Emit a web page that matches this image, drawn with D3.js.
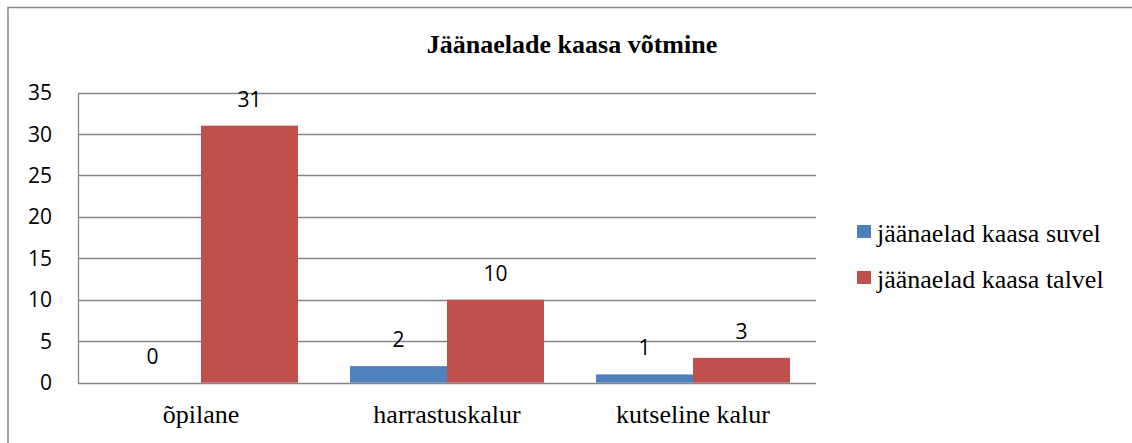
<!DOCTYPE html>
<html lang="et">
<head>
  <meta charset="utf-8">
  <title>Jäänaelade kaasa võtmine</title>
  <style>
    body { margin: 0; background: #fff; }
    svg { display: block; }
    .grid line { stroke: #868686; stroke-width: 1.3; }
    .ytick { font-family: 'Open Sans', sans-serif; font-size: 21px; fill: #000; }
    .vlabel { font-family: 'Open Sans', sans-serif; font-size: 21px; fill: #000; text-anchor: middle; }
    .xtick, .legend text { font-family: 'Liberation Serif', 'Times New Roman', serif; font-size: 26px; fill: #000; }
    .title { font-family: 'Liberation Serif', 'Times New Roman', serif; font-size: 26px; font-weight: bold; text-anchor: middle; }
  </style>
</head>
<body>
  <div id="chart"></div>

  <script src="https://d3js.org/d3.v7.min.js"></script>
  <script>
    // chart data
    var categories = ["õpilane", "harrastuskalur", "kutseline kalur"];
    var seriesNames = ["jäänaelad kaasa suvel", "jäänaelad kaasa talvel"];
    var summerValues = [0, 2, 1];
    var winterValues = [31, 10, 3];
    var yTicks = [0, 5, 10, 15, 20, 25, 30, 35];
    var colors = ["#4F81BD", "#C0504D"];

    var width = 1132, height = 443;
    var plot = { left: 78, right: 816, top: 92.5, bottom: 382.7 };

    var svg = d3.select("#chart")
      .append("svg")
      .attr("width", width)
      .attr("height", height);

    // outer frame (right/bottom edges fall outside the picture)
    svg.append("rect")
      .attr("x", 8).attr("y", 7.5)
      .attr("width", 1200).attr("height", 500)
      .attr("fill", "none")
      .attr("stroke", "#888")
      .attr("stroke-width", 1.5);

    // title
    svg.append("text")
      .attr("class", "title")
      .attr("x", 572)
      .attr("y", 53)
      .text("Jäänaelade kaasa võtmine");

    // scales
    var y = d3.scaleLinear().domain([0, 35]).range([plot.bottom, plot.top]);
    var x0 = d3.scaleBand().domain(categories).range([plot.left, plot.right]).padding(0);
    var x1 = d3.scaleBand().domain(seriesNames).range([0, x0.bandwidth()])
      .paddingInner(0).paddingOuter(0.268);

    // gridlines
    svg.append("g")
      .attr("class", "grid")
      .selectAll("line")
      .data(yTicks)
      .enter()
      .append("line")
      .attr("x1", plot.left)
      .attr("x2", plot.right)
      .attr("y1", function(d) { return Math.round(y(d)) + 0.5; })
      .attr("y2", function(d) { return Math.round(y(d)) + 0.5; });

    // y axis line
    svg.append("line")
      .attr("x1", plot.left + 0.5).attr("x2", plot.left + 0.5)
      .attr("y1", Math.round(y(35)) + 0.5).attr("y2", Math.round(y(0)) + 0.5)
      .attr("stroke", "#868686").attr("stroke-width", 1.3);

    // y tick labels
    svg.selectAll(".ytick")
      .data(yTicks)
      .enter()
      .append("text")
      .attr("class", "ytick")
      .attr("x", 52)
      .attr("y", function(d) { return y(d); })
      .attr("dy", "0.36em")
      .attr("text-anchor", "end")
      .text(function(d) { return d; });

    // bars
    var rows = categories.map(function(c, i) {
      return { category: c, values: [summerValues[i], winterValues[i]] };
    });

    var groups = svg.selectAll(".group")
      .data(rows)
      .enter()
      .append("g")
      .attr("class", "group")
      .attr("transform", function(d) { return "translate(" + x0(d.category) + ",0)"; });

    groups.selectAll("rect")
      .data(function(d) { return d.values.map(function(v, j) { return { series: seriesNames[j], value: v, color: colors[j] }; }); })
      .enter()
      .append("rect")
      .attr("x", function(d) { return x1(d.series); })
      .attr("y", function(d) { return y(d.value); })
      .attr("width", x1.bandwidth())
      .attr("height", function(d) { return y(0) - y(d.value); })
      .attr("fill", function(d) { return d.color; });

    groups.selectAll(".vlabel")
      .data(function(d) { return d.values.map(function(v, j) { return { series: seriesNames[j], value: v }; }); })
      .enter()
      .append("text")
      .attr("class", "vlabel")
      .attr("x", function(d) { return x1(d.series) + x1.bandwidth() / 2; })
      .attr("y", function(d) { return y(d.value) - 19; })
      .text(function(d) { return d.value; });

    // x labels
    svg.selectAll(".xtick")
      .data(categories)
      .enter()
      .append("text")
      .attr("class", "xtick")
      .attr("x", function(d) { return x0(d) + x0.bandwidth() / 2; })
      .attr("y", 423)
      .attr("text-anchor", "middle")
      .text(function(d) { return d; });

    // legend
    var legend = svg.append("g").attr("class", "legend");
    var items = legend.selectAll("g")
      .data(seriesNames)
      .enter()
      .append("g")
      .attr("transform", function(d, i) { return "translate(857," + (225 + i * 46) + ")"; });

    items.append("rect")
      .attr("width", 14).attr("height", 13)
      .attr("fill", function(d, i) { return colors[i]; });

    items.append("text")
      .attr("x", 20)
      .attr("y", 17)
      .text(function(d) { return d; });
  </script>
</body>
</html>
